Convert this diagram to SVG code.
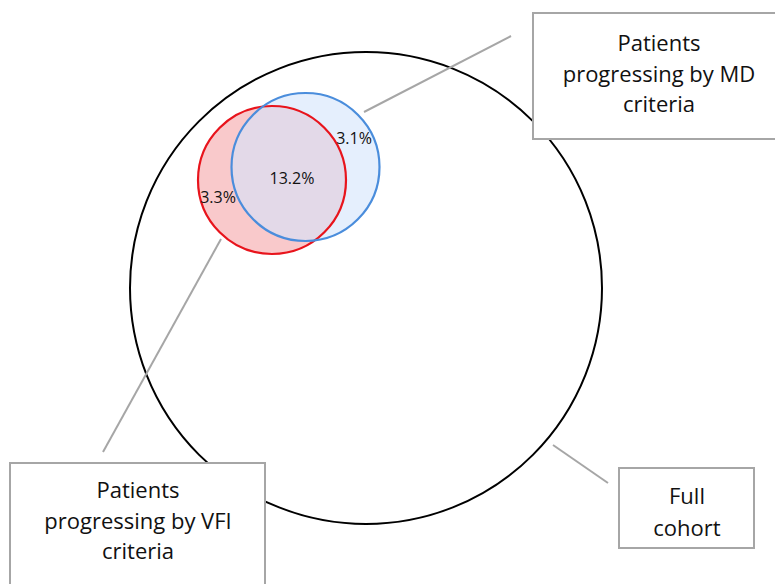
<svg xmlns="http://www.w3.org/2000/svg" width="775" height="584" viewBox="0 0 775 584">
<style>
.box{fill:#fff;stroke:#a6a6a6;stroke-width:2}
.lbl{font-family:"Open Sans","Noto Sans",sans-serif;font-size:22px;fill:#111;text-anchor:middle}
.pct{font-family:"Open Sans","Noto Sans",sans-serif;font-size:16px;fill:#111;text-anchor:middle}
.conn{stroke:#a6a6a6;stroke-width:2;fill:none}
</style>
<rect width="775" height="584" fill="#fff"/>
<g id="full-cohort-circle"><circle cx="366" cy="288" r="236" fill="none" stroke="#000" stroke-width="2"/></g>
<g id="vfi-circle"><circle cx="272" cy="180" r="74" fill="#f9c9cb"/></g>
<g id="md-circle"><circle cx="305.5" cy="167" r="74" fill="#d4e5fb" fill-opacity="0.6"/></g>
<g id="outlines">
<circle cx="272" cy="180" r="74" fill="none" stroke="#e8141c" stroke-width="2.2"/>
<circle cx="305.5" cy="167" r="74" fill="none" stroke="#4a8ddc" stroke-width="2.2"/>
</g>
<g id="connectors">
<line class="conn" x1="364" y1="112" x2="511" y2="36"/>
<line class="conn" x1="221" y1="239" x2="103" y2="452"/>
<line class="conn" x1="553" y1="445" x2="608" y2="483"/>
</g>
<g id="pct-labels">
<text class="pct" x="354" y="144">3.1%</text>
<text class="pct" x="292" y="184">13.2%</text>
<text class="pct" x="218" y="203">3.3%</text>
</g>
<g id="md-box"><rect class="box" x="533" y="13" width="250" height="126"/>
<text class="lbl" x="659" y="51">Patients</text>
<text class="lbl" x="659" y="82">progressing by MD</text>
<text class="lbl" x="659" y="112">criteria</text></g>
<g id="vfi-box"><rect class="box" x="10" y="463" width="255" height="130"/>
<text class="lbl" x="138" y="498">Patients</text>
<text class="lbl" x="138" y="529">progressing by VFI</text>
<text class="lbl" x="138" y="559">criteria</text></g>
<g id="full-box"><rect class="box" x="619" y="468" width="135" height="80"/>
<text class="lbl" x="687" y="504">Full</text>
<text class="lbl" x="687" y="536">cohort</text></g>
</svg>
